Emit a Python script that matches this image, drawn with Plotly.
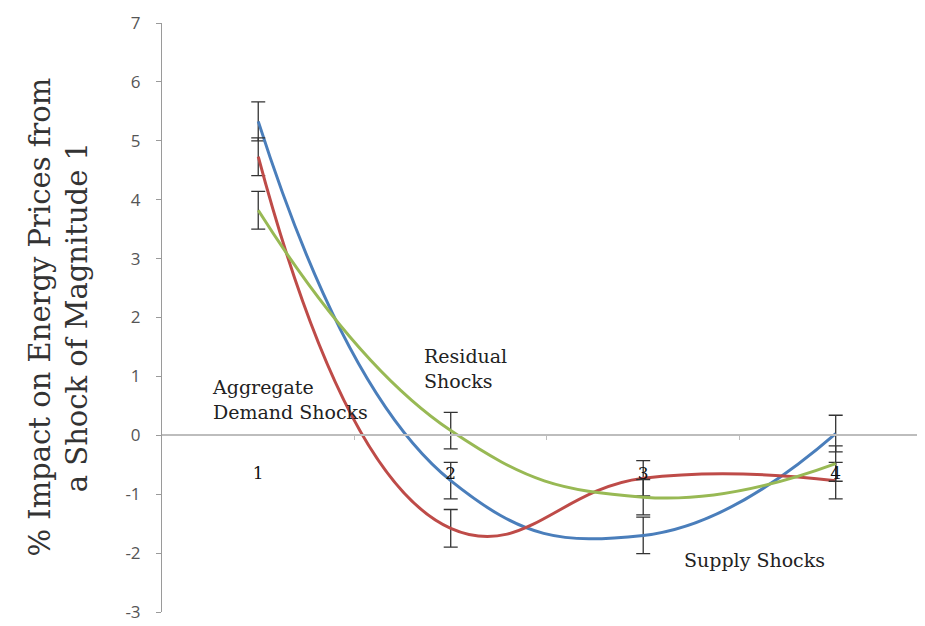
import plotly.graph_objects as go

categories = [1, 2, 3, 4]
tick_labels = ["1", "2", "3", "4"]
y_ticks = [-3, -2, -1, 0, 1, 2, 3, 4, 5, 6, 7]
y_tick_labels = ["-3", "-2", "-1", "0", "1", "2", "3", "4", "5", "6", "7"]
blue_vals = [5.33, -0.77, -1.70, 0.03]
blue_err = [0.33, 0.31, 0.31, 0.31]
red_vals = [4.73, -1.58, -0.73, -0.77]
red_err = [0.32, 0.32, 0.30, 0.31]
green_vals = [3.82, 0.08, -1.05, -0.48]
green_err = [0.32, 0.31, 0.30, 0.30]

series = [
    ("Blue", blue_vals, blue_err, "#4A7EBB"),
    ("Red", red_vals, red_err, "#BE4B48"),
    ("Green", green_vals, green_err, "#98B954"),
]

fig = go.Figure()
for name, vals, err, col in series:
    fig.add_trace(go.Scatter(
        x=categories, y=vals, mode="lines", name=name,
        line=dict(color=col, width=3, shape="spline", smoothing=1.3),
        error_y=dict(type="data", array=err, visible=True, color="#333333",
                     thickness=1.3, width=7),
        showlegend=False,
    ))

ann_font = dict(family="DejaVu Serif", size=19, color="#222222")
fig.add_annotation(x=0.75, y=0.6, xref="x", yref="y", text="Aggregate<br>Demand Shocks",
                   showarrow=False, xanchor="left", align="left", font=ann_font)
fig.add_annotation(x=1.85, y=1.14, xref="x", yref="y", text="Residual<br>Shocks",
                   showarrow=False, xanchor="left", align="left", font=ann_font)
fig.add_annotation(x=3.2, y=-2.12, xref="x", yref="y", text="Supply Shocks",
                   showarrow=False, xanchor="left", align="left", font=ann_font)

fig.add_annotation(x=-0.1363, y=0.5, xref="paper", yref="paper",
                   text="% Impact on Energy Prices from<br>a Shock of Magnitude 1",
                   textangle=-90, showarrow=False, xanchor="center", yanchor="middle",
                   font=dict(family="DejaVu Serif", size=29, color="#333333"))

fig.update_layout(
    width=917, height=618,
    margin=dict(l=154, r=0, t=15, b=14),
    plot_bgcolor="white", paper_bgcolor="white",
    xaxis=dict(
        range=[0.5, 4.464], anchor="free", position=0.3005, automargin=False,
        tickvals=categories, ticktext=tick_labels, ticks="",
        ticklabelstandoff=23,
        tickfont=dict(family="DejaVu Serif", size=17, color="#111111"),
        showline=True, linecolor="#BDBDBD", linewidth=2,
        showgrid=False, zeroline=False,
        minor=dict(tickvals=[1.5, 2.5, 3.5], ticks="outside", ticklen=4,
                   tickcolor="#BDBDBD", tickwidth=1),
    ),
    yaxis=dict(
        range=[-3, 7], tickvals=y_ticks, ticktext=y_tick_labels, automargin=False,
        ticks="outside", ticklen=5, tickcolor="#9A9A9A",
        tickfont=dict(family="Open Sans", size=17, color="#555555"),
        ticklabelstandoff=12,
        showline=True, linecolor="#9A9A9A", linewidth=1,
        showgrid=False, zeroline=False,
    ),
)

fig.write_html("out.html")
